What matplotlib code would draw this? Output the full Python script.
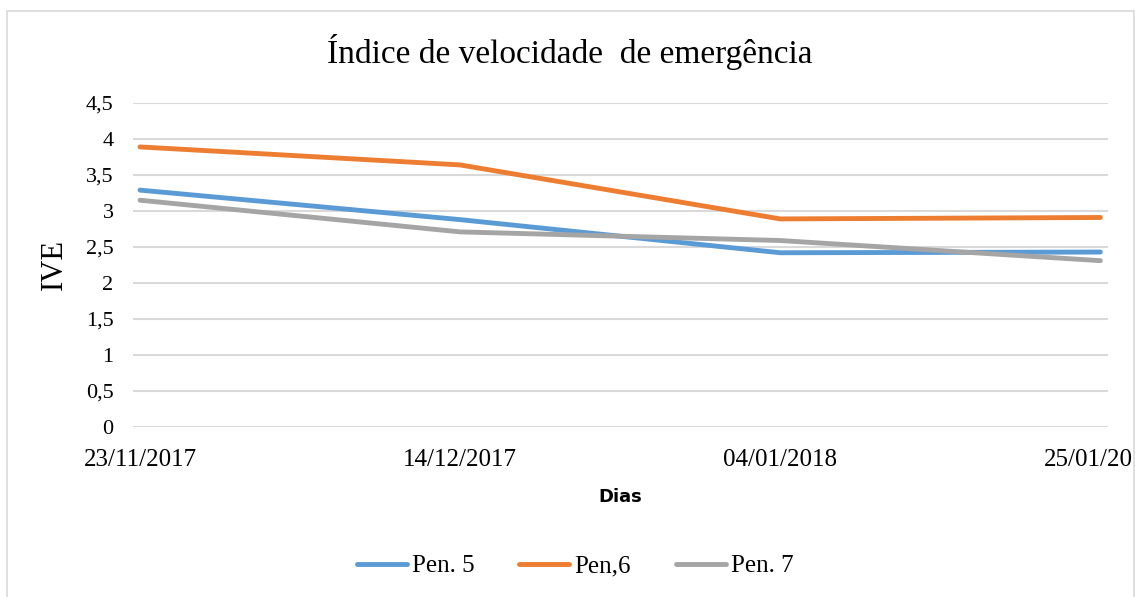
import matplotlib.pyplot as plt
from matplotlib.patches import Rectangle

dias = [0, 21, 42, 63]
rotulos = ['23/11/2017', '14/12/2017', '04/01/2018', '25/01/2018']
pen5 = [3.29, 2.88, 2.42, 2.43]
pen6 = [3.89, 3.64, 2.89, 2.91]
pen7 = [3.15, 2.71, 2.59, 2.31]
nomes = ['Pen. 5', 'Pen,6', 'Pen. 7']
cores = ['#5b9bd5', '#ed7d31', '#a5a5a5']

serif = 'Liberation Serif'

fig = plt.figure(figsize=(11.35, 5.97), dpi=100)
fig.patches.append(Rectangle((7 / 1135, -0.1), 1127 / 1135, 1.1 - 11 / 597,
                             transform=fig.transFigure, fill=False,
                             edgecolor='#d9d9d9', linewidth=1.2))

ax = fig.add_axes([133 / 1135, 1 - 427 / 597, (1108 - 133) / 1135, (427 - 103) / 597])
for serie, nome, cor in zip([pen5, pen6, pen7], nomes, cores):
    ax.plot(dias, serie, color=cor, linewidth=3.5, label=nome, solid_capstyle='round')

ax.set_xlim(-0.46, 63.5)
ax.set_ylim(0, 4.5)
ax.set_yticks([0, 0.5, 1, 1.5, 2, 2.5, 3, 3.5, 4, 4.5])
ax.set_yticklabels(['0', '0,5', '1', '1,5', '2', '2,5', '3', '3,5', '4', '4,5'],
                   fontfamily=serif, fontsize=16)
ax.set_xticks(dias)
ax.set_xticklabels(rotulos, fontfamily=serif, fontsize=18)
ax.tick_params(length=0)
ax.tick_params(axis='x', pad=16)
ax.tick_params(axis='y', pad=14)
ax.grid(axis='y', color='#d9d9d9', linewidth=1.5)
ax.set_axisbelow(True)
for s in ax.spines.values():
    s.set_visible(False)

ax.set_ylabel('IVE', fontfamily=serif, fontsize=22, labelpad=12)
ax.set_xlabel('Dias', fontfamily='DejaVu Sans', fontweight='bold', fontsize=13, labelpad=12)
fig.text(570 / 1135, 1 - 52 / 597, 'Índice de velocidade  de emergência',
         fontfamily=serif, fontsize=24, ha='center', va='center')

leg = fig.legend(loc='center', bbox_to_anchor=(575 / 1135, 1 - 566 / 597), ncol=3,
                 frameon=False, prop={'family': serif, 'size': 18},
                 handlelength=2.0, handletextpad=0.2, columnspacing=1.8)

fig.savefig('out.png', dpi=100)
